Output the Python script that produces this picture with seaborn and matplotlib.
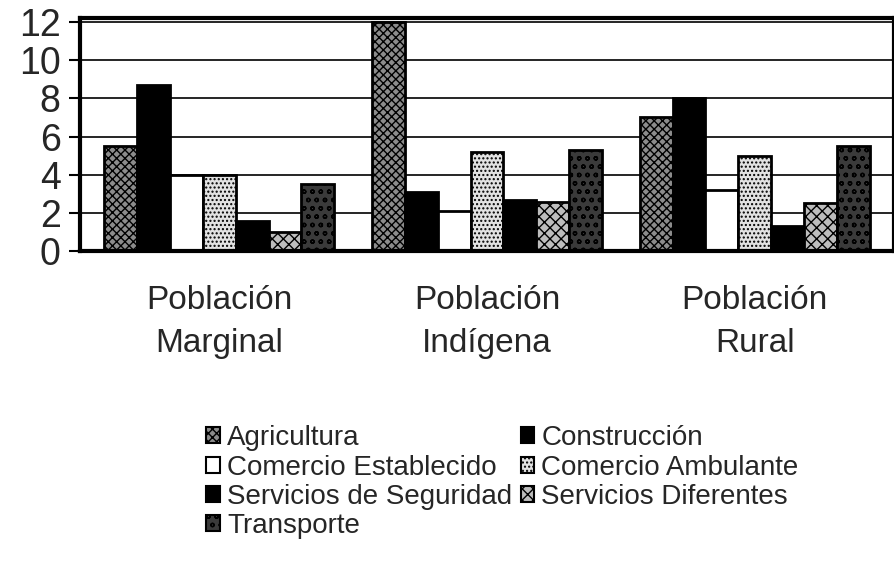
import matplotlib
matplotlib.use("Agg")
import matplotlib.pyplot as plt
import seaborn as sns
import pandas as pd

groups = ["Población\nMarginal", "Población\nIndígena", "Población\nRural"]
sectors = ["Agricultura", "Construcción", "Comercio Establecido", "Comercio Ambulante",
           "Servicios de Seguridad", "Servicios Diferentes", "Transporte"]
agricultura = [5.5, 12.0, 7.0]
construccion = [8.7, 3.1, 8.0]
comercio_est = [4.0, 2.1, 3.2]
comercio_amb = [4.0, 5.2, 5.0]
serv_seguridad = [1.6, 2.7, 1.3]
serv_diferentes = [1.0, 2.6, 2.5]
transporte = [3.5, 5.3, 5.5]
yticks = [0, 2, 4, 6, 8, 10, 12]

series = [agricultura, construccion, comercio_est, comercio_amb,
          serv_seguridad, serv_diferentes, transporte]
rows = []
for s, vals in zip(sectors, series):
    for g, v in zip(groups, vals):
        rows.append({"grupo": g, "sector": s, "valor": v})
df = pd.DataFrame(rows)

sns.set_theme(style="white")
plt.rcParams['font.family'] = ['Liberation Sans', 'DejaVu Sans']
plt.rcParams['hatch.linewidth'] = 1.0

fig = plt.figure(figsize=(8.94, 5.62), dpi=100)
ax = fig.add_axes([0.0895, 0.553, 0.9105, 0.415])

sns.barplot(data=df, x="grupo", y="valor", hue="sector", hue_order=sectors,
            order=groups, width=0.86, ax=ax, legend=True, errorbar=None)

styles = [
    dict(facecolor="#8c8c8c", hatch="xxxx", edgecolor="black"),
    dict(facecolor="black", hatch=None, edgecolor="black"),
    dict(facecolor="white", hatch=None, edgecolor="black"),
    dict(facecolor="#e2e2e2", hatch="....", edgecolor="black"),
    dict(facecolor="black", hatch=None, edgecolor="black"),
    dict(facecolor="#bdbdbd", hatch="xxx", edgecolor="black"),
    dict(facecolor="#3a3a3a", hatch="oo", edgecolor="black"),
]


def apply_style(p, st, lw):
    p.set_facecolor(st["facecolor"])
    p.set_edgecolor(st["edgecolor"])
    p.set_linewidth(lw)
    if st["hatch"]:
        p.set_hatch(st["hatch"])


for cont, st in zip(ax.containers, styles):
    for p in cont:
        apply_style(p, st, 2.0)

ax.set_ylim(0, 12.2)
ax.set_xlim(-0.52, 2.52)
ax.set_yticks(yticks)
ax.set_yticklabels([str(t) for t in yticks], fontsize=27)
ax.yaxis.grid(True, color="black", linewidth=1.2)
ax.set_axisbelow(True)
ax.tick_params(axis="y", left=True, length=8, width=1.5, pad=6, color="black")
ax.tick_params(axis="x", bottom=False, labelsize=24, pad=18)
for lbl in ax.get_xticklabels():
    lbl.set_linespacing(1.5)
ax.set_xlabel("")
ax.set_ylabel("")
for sp in ax.spines.values():
    sp.set_visible(True)
    sp.set_color("black")
    sp.set_linewidth(3)

handles, labels = ax.get_legend_handles_labels()
ax.get_legend().remove()
for h, st in zip(handles, styles):
    apply_style(h, st, 1.5)
order = [0, 2, 4, 6, 1, 3, 5]
fig.legend([handles[i] for i in order], [labels[i] for i in order],
           loc="upper left", bbox_to_anchor=(0.209, 0.278), ncol=2,
           frameon=False, fontsize=20, handlelength=0.5, handleheight=0.5,
           handletextpad=0.25, columnspacing=0.3, labelspacing=0.12,
           borderpad=0.2)

fig.savefig("out.png", dpi=100)
